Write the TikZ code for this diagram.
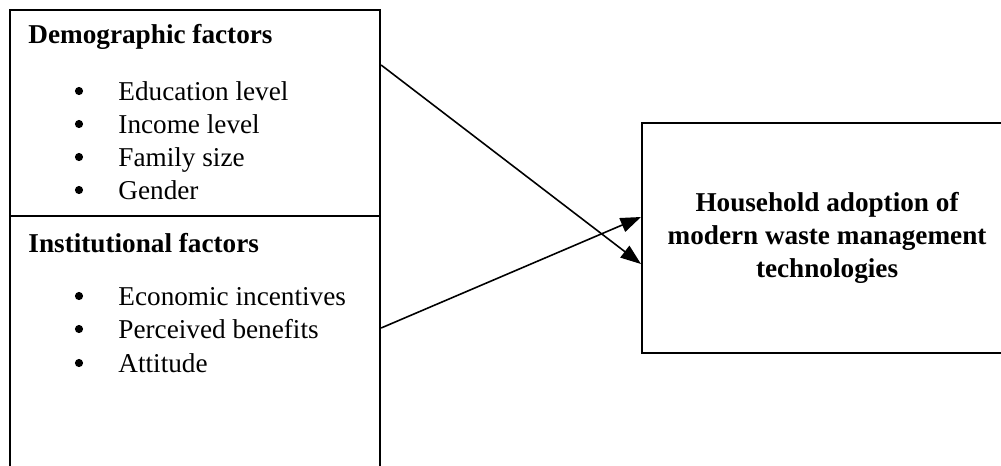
\documentclass[tikz,border=0pt]{standalone}
\usepackage{fontspec}
\setmainfont{Liberation Serif}
\usetikzlibrary{arrows.meta,calc}

\begin{document}
\begin{tikzpicture}[x=0.441pt,y=-0.441pt,
  font=\fontsize{12}{14.5}\selectfont,
  factorbox/.style={draw,line width=0.9pt,anchor=north west,inner sep=0pt,minimum width=163.2pt},
  heading/.style={anchor=base west,inner sep=0pt,font=\fontsize{12}{14.5}\selectfont\bfseries},
  dot/.style={circle,fill,inner sep=0pt,minimum size=3.6pt},
  flow/.style={line width=0.7pt,-{Triangle[length=9pt,width=6.5pt]}}]
  \clip (0,0) rectangle (1001,465);
  \node[factorbox,minimum height=90.85pt] (demo) at (9,9) {};
  \node[factorbox,minimum height=120pt] (inst) at (9,215) {};
  \node[factorbox,minimum height=101.4pt,align=center,
        font=\fontsize{12}{14.5}\selectfont\bfseries] (outcome) at (641,122)
        {Household adoption of\\modern waste management\\technologies};
  \node[heading] (demotitle) at (28,43) {Demographic factors};
  \node[heading] (insttitle) at (28,252) {Institutional factors};
  \foreach \factor/\y in {
    {Education level}/100,
    {Income level}/133,
    {Family size}/166,
    {Gender}/199,
    {Economic incentives}/305,
    {Perceived benefits}/338,
    {Attitude}/372}
  {
    \node[dot] (dot-\y) at (79,\y-9) {};
    \node[anchor=base west,inner sep=0pt] (fac-\y) at (118,\y) {\factor};
  }
  \draw[flow] ($(demo.north east)+(0,56)$) -- ($(outcome.west)+(0,26)$);
  \draw[flow] ($(inst.north east)+(0,113)$) -- ($(outcome.west)+(0,-21)$);
\end{tikzpicture}
\end{document}
